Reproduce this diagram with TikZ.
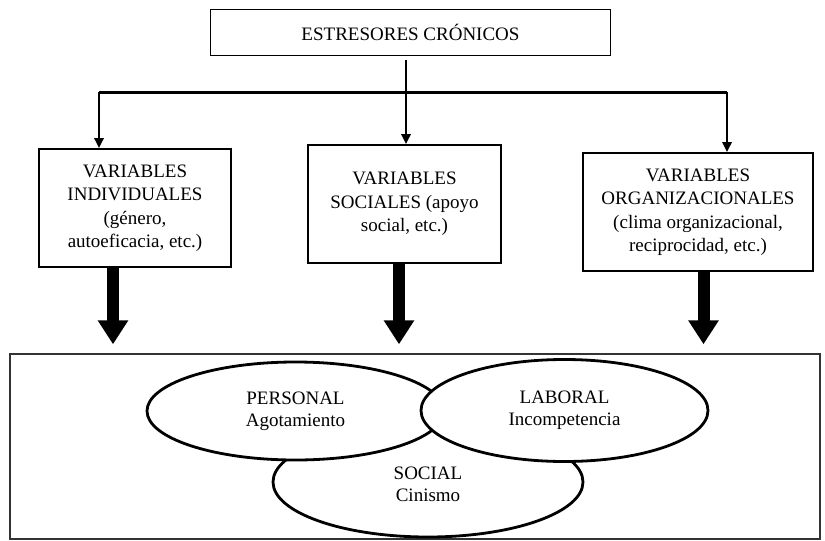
\documentclass[tikz,border=0pt]{standalone}
\usepackage{fontspec}
\setmainfont{Liberation Serif}
\usepackage{tikz}
\usetikzlibrary{arrows.meta,positioning,shapes.geometric}
\tikzset{
  estbox/.style={draw,line width=1.6pt,fill=white,align=center,inner sep=4pt,font={\fontsize{19}{23.5}\selectfont}},
  estoval/.style={ellipse,draw,line width=2.8pt,fill=white,align=center,inner sep=0pt,font={\fontsize{19}{22}\selectfont}},
  estflow/.style={-{Triangle[length=10pt,width=9pt]},line width=2.6pt},
  estline/.style={line width=3pt},
  estbig/.style={-{Triangle[length=24pt,width=29pt]},line width=12pt,shorten >=9pt},
  estframe/.style={draw=black!80,line width=1.4pt,inner sep=0pt,minimum width=810pt,minimum height=185pt},
}

\begin{document}
\begin{tikzpicture}[x=1pt,y=-1pt]
\useasboundingbox (0,0) rectangle (825,541);
 % chronic stressors and burnout
\node[estframe] (frame) at (415,446.5) {};
\node[estbox,minimum width=400pt,minimum height=46pt] (top) at (410.5,32.5) {ESTRESORES CRÓNICOS};
\node[estbox,minimum width=192pt,minimum height=118pt] (ind) at (135,208) {VARIABLES\\INDIVIDUALES\\(género,\\autoeficacia, etc.)};
\node[estbox,minimum width=193pt,minimum height=118pt] (soc) at (404.5,204) {VARIABLES\\SOCIALES (apoyo\\social, etc.)};
\node[estbox,minimum width=230pt,minimum height=118pt] (org) at (698,212) {VARIABLES\\ORGANIZACIONALES\\(clima organizacional,\\reciprocidad, etc.)};
\coordinate (jl) at (99,92);
\coordinate (jm) at (406,92);
\coordinate (jr) at (727,92);
\draw[estline](jl) -- (jr);
\draw[estflow,shorten <=4pt](top.south -| jm) -- (jm |- soc.north);
\draw[estflow](jl) -- (jl |- ind.north);
\draw[estflow](jr) -- (jr |- org.north);
\draw[estbig]([xshift=-22pt]ind.south) -- ([xshift=-22pt]ind.south |- frame.north);
\draw[estbig]([xshift=-5.5pt]soc.south) -- ([xshift=-5.5pt]soc.south |- frame.north);
\draw[estbig]([xshift=5.5pt]org.south) -- ([xshift=5.5pt]org.south |- frame.north);
\node[estoval,minimum width=310pt,minimum height=110pt,text height=39pt] (social) at (428,482) {SOCIAL\\Cinismo};
\node[estoval,minimum width=297pt,minimum height=98pt] (pers) at (295.5,411) {PERSONAL\\Agotamiento};
\node[estoval,minimum width=287pt,minimum height=102pt] (lab) at (564.5,410.5) {LABORAL\\Incompetencia};
\end{tikzpicture}
\end{document}
